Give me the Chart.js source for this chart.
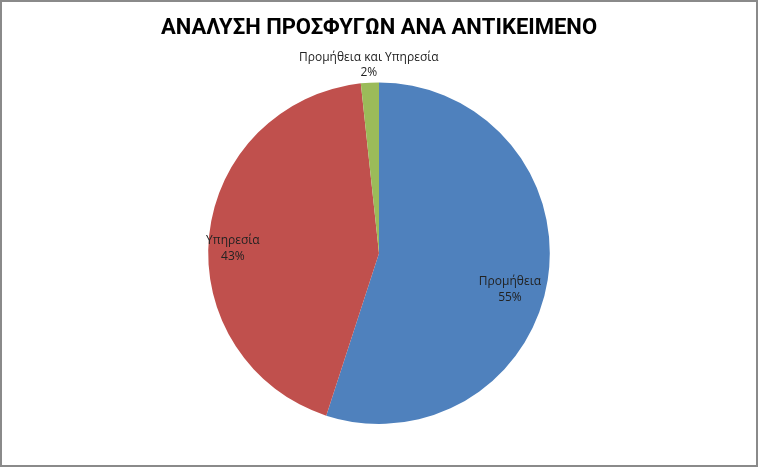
<!DOCTYPE html>
<html>
<head>
<meta charset="utf-8">
<script src="https://cdn.jsdelivr.net/npm/chart.js@4/dist/chart.umd.min.js"></script>
<style>
  html, body { margin: 0; padding: 0; background: #fff; }
  #wrap { width: 758px; height: 467px; position: relative; }
</style>
</head>
<body>
<div id="wrap"><canvas id="chart"></canvas></div>
<script>
// Δεδομένα (εκτίμηση από την εικόνα)
const labels = ['Προμήθεια', 'Υπηρεσία', 'Προμήθεια και Υπηρεσία'];
const values = [55.0, 43.3, 1.7];
const shownPct = ['55%', '43%', '2%'];
const colors = ['#4F81BD', '#C0504D', '#9BBB59'];

const chartTitle = 'ΑΝΑΛΥΣΗ ΠΡΟΣΦΥΓΩΝ ΑΝΑ ΑΝΤΙΚΕΙΜΕΝΟ';

// frame + white background
const framePlugin = {
    id: 'frame',
    beforeDraw(chart) {
        const c = chart.ctx;
        c.save();
        c.fillStyle = '#fff';
        c.fillRect(0, 0, chart.width, chart.height);
        c.restore();
    },
    afterDraw(chart) {
        const c = chart.ctx;
        c.save();
        c.strokeStyle = '#8a8a8a';
        c.lineWidth = 2;
        c.strokeRect(1, 1, chart.width - 2, chart.height - 2);
        c.restore();
    }
};

// slice labels: name + percent, inside for big slices, outside for small
const sliceLabels = {
    id: 'sliceLabels',
    afterDatasetsDraw(chart) {
        const c = chart.ctx;
        const meta = chart.getDatasetMeta(0);
        c.save();
        c.font = '12px "Open Sans", "DejaVu Sans", sans-serif';
        c.textAlign = 'center';
        c.textBaseline = 'middle';
        c.fillStyle = '#222';
        meta.data.forEach((arc, i) => {
            const mid = (arc.startAngle + arc.endAngle) / 2;
            const share = (arc.endAngle - arc.startAngle) / (2 * Math.PI);
            let r, x, y;
            if (share > 0.1) {
                r = arc.outerRadius * (i === 0 ? 0.8 : 0.86);
                x = arc.x + Math.cos(mid) * r + (i === 0 ? -4 : 0);
                y = arc.y + Math.sin(mid) * r + (i === 0 ? 15 : 11);
                c.fillText(labels[i], x, y - 8);
                c.fillText(shownPct[i], x, y + 8);
            } else {
                r = arc.outerRadius + 20;
                x = arc.x + Math.cos(mid) * r;
                y = arc.y + Math.sin(mid) * r;
                c.fillText(labels[i], x, y - 5);
                c.fillText(shownPct[i], x, y + 10);
            }
        });
        c.restore();
    }
};

new Chart(document.getElementById('chart'), {
    type: 'pie',
    data: {
        labels: labels,
        datasets: [{
            data: values,
            backgroundColor: colors,
            borderWidth: 0
        }]
    },
    options: {
        responsive: true,
        maintainAspectRatio: false,
        animation: false,
        layout: { padding: { top: 0, bottom: 43, left: 0, right: 0 } },
        plugins: {
            legend: { display: false },
            tooltip: { enabled: false },
            title: {
                display: true,
                text: chartTitle,
                color: '#000',
                font: { family: 'Roboto, "Open Sans", sans-serif', size: 22, weight: 'bold' },
                padding: { top: 15, bottom: 41 }
            }
        }
    },
    plugins: [framePlugin, sliceLabels]
});
</script>
</body>
</html>
